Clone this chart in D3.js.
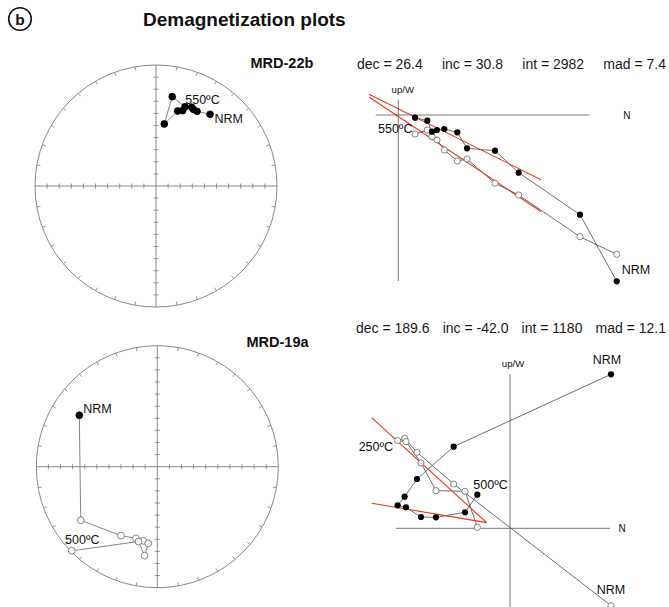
<!DOCTYPE html>
<html>
<head>
<meta charset="utf-8">
<script src="https://cdn.jsdelivr.net/npm/d3@7"></script>
<style>
  html, body { margin: 0; padding: 0; background: #fff; }
  svg { display: block; font-family: "Liberation Sans", Arial, Helvetica, sans-serif; }
</style>
</head>
<body>
<svg id="fig" width="669" height="607"></svg>
<script>
// ---------------- data ----------------
// Specimen names
const specimens = ["MRD-22b", "MRD-19a"];

// Principal component results: dec, inc, int, mad
const statNames = ["dec", "inc", "int", "mad"];
const statsTop = [26.4, 30.8, 2982, 7.4];
const statsBottom = [189.6, -42.0, 1180, 12.1];

// Equal-area net directions, in plotting order (first step = NRM)
const netTopDec = [37.0, 28.8, 25.9, 24.4, 20.1, 10.3, 7.6, 16.1, 19.5];
const netTopInc = [26.7, 30.3, 30.2, 29.3, 30.9, 25.9, 47.1, 35.7, 34.3];
const netBotDec = [303.4, 235.0, 207.8, 196.6, 190.7, 186.7, 188.1, 194.1, 225.5];
const netBotInc = [23.8, -23.8, -35.8, -38.2, -37.7, -36.4, -26.6, -36.4, -1.0];

// Orthogonal vector components (N, up/W horizontal, up vertical), NRM first
const zTopNorth = [2184, 1817, 1204, 967, 687, 590, 460, 387, 337, 290, 167];
const zTopWest  = [-1663, -997, -577, -357, -333, -173, -140, -150, -167, -57, -27];
const zTopUp    = [-1393, -1217, -800, -683, -440, -460, -350, -250, -217, -150, -190];

const zBotNorth = [606, -338, -558, -632, -674, -624, -534, -444, -270, -196];
const zBotWest  = [924, 490, 296, 190, 138, 126, 68, 66, 96, 202];
const zBotUp    = [-464, 266, 456, 540, 526, 520, 392, 226, 222, 6];

// Fitted line extents along N and their intercepts at N = 0 (W, up)
const fitTopNorth = [-293, 1427];
const fitTopIntercept = [62, -15];
const fitBotNorth = [-830, -140];
const fitBotIntercept = [10.3, -93.8];

// ---------------- drawing ----------------
const svg = d3.select("#fig");
const FRAME = "#7a7a7a";
const PATH = "#4a4a4a";
const RED = "#e8361e";
const INK = "#111";

const fmtLocale = d3.formatLocale({ decimal: ".", thousands: "", grouping: [3], currency: ["", ""], minus: "-" });
const statFormats = [fmtLocale.format(".1f"), fmtLocale.format(".1f"), fmtLocale.format("d"), fmtLocale.format(".1f")];

// Panel header
svg.append("circle").attr("cx", 20).attr("cy", 19).attr("r", 11.3)
  .attr("fill", "none").attr("stroke", INK).attr("stroke-width", 1.6);
svg.append("text").attr("x", 20).attr("y", 24.5).attr("text-anchor", "middle")
  .attr("font-size", 15.5).attr("font-weight", "bold").attr("fill", INK).text("b");
svg.append("text").attr("x", 143).attr("y", 26).attr("font-size", 19).attr("font-weight", "bold")
  .attr("fill", INK).text("Demagnetization plots");

function specimenLabel(x, y, name) {
  svg.append("text").attr("x", x).attr("y", y).attr("font-size", 14.5).attr("font-weight", "bold")
    .attr("fill", INK).text(name);
}

function statsLine(x0, x1, yb, vals) {
  const texts = statNames.map((n, i) => svg.append("text").attr("y", yb).attr("font-size", 14)
    .attr("fill", "#1a1a1a").text(`${n} = ${statFormats[i](vals[i])}`));
  const widths = texts.map(t => t.node().getComputedTextLength());
  const gap = (x1 - x0 - d3.sum(widths)) / (texts.length - 1);
  let x = x0;
  texts.forEach((t, i) => { t.attr("x", x); x += widths[i] + gap; });
}

// Equal-area (Schmidt) projection of a direction, unit radius
function projectDir(dec, inc) {
  const a = dec * Math.PI / 180;
  const colat = (90 - Math.abs(inc)) * Math.PI / 180;
  const r = Math.SQRT2 * Math.sin(colat / 2);
  return [r * Math.sin(a), r * Math.cos(a)];
}

function stereonet(cx, cy, R, dec, inc, labels) {
  const g = svg.append("g");
  const sx = d3.scaleLinear().domain([-1, 1]).range([cx - R, cx + R]);
  const sy = d3.scaleLinear().domain([-1, 1]).range([cy + R, cy - R]);

  g.append("circle").attr("cx", sx(0)).attr("cy", sy(0)).attr("r", R)
    .attr("fill", "none").attr("stroke", FRAME).attr("stroke-width", 0.9);
  g.append("line").attr("x1", sx(-1)).attr("x2", sx(1)).attr("y1", sy(0)).attr("y2", sy(0))
    .attr("stroke", FRAME).attr("stroke-width", 0.9);
  g.append("line").attr("x1", sx(0)).attr("x2", sx(0)).attr("y1", sy(1)).attr("y2", sy(-1))
    .attr("stroke", FRAME).attr("stroke-width", 0.9);

  const tk = d3.range(-9, 10).filter(k => k !== 0).map(k => k / 10);
  g.selectAll(null).data(tk).join("line")
    .attr("x1", d => sx(d)).attr("x2", d => sx(d))
    .attr("y1", sy(0) - 2.5).attr("y2", sy(0) + 2.5)
    .attr("stroke", FRAME).attr("stroke-width", 0.8);
  g.selectAll(null).data(tk).join("line")
    .attr("y1", d => sy(d)).attr("y2", d => sy(d))
    .attr("x1", sx(0) - 2.5).attr("x2", sx(0) + 2.5)
    .attr("stroke", FRAME).attr("stroke-width", 0.8);

  const az = d3.range(0, 360, 10).filter(a => a % 90 !== 0);
  g.selectAll(null).data(az).join("line")
    .attr("x1", a => sx(Math.sin(a * Math.PI / 180)))
    .attr("y1", a => sy(Math.cos(a * Math.PI / 180)))
    .attr("x2", a => sx(0.97 * Math.sin(a * Math.PI / 180)))
    .attr("y2", a => sy(0.97 * Math.cos(a * Math.PI / 180)))
    .attr("stroke", FRAME).attr("stroke-width", 0.8);

  const pts = dec.map((d, i) => {
    const [px, py] = projectDir(d, inc[i]);
    return { x: sx(px), y: sy(py), down: inc[i] >= 0 };
  });
  g.append("path").attr("d", d3.line().x(p => p.x).y(p => p.y)(pts))
    .attr("fill", "none").attr("stroke", "#666").attr("stroke-width", 0.8);
  g.selectAll(null).data(pts).join("circle")
    .attr("cx", p => p.x).attr("cy", p => p.y).attr("r", 3.4)
    .attr("fill", p => p.down ? "#000" : "#fff")
    .attr("stroke", p => p.down ? "#000" : "#666").attr("stroke-width", 0.8);

  labels.forEach(l => {
    g.append("text").attr("x", pts[l.i].x + l.dx).attr("y", pts[l.i].y + l.dy)
      .attr("font-size", 12.5).attr("fill", INK).text(l.text);
  });
}

function zijderveld(o) {
  const g = svg.append("g");
  const x = d3.scaleLinear().domain(o.xDom).range(o.xRange);
  const y = d3.scaleLinear().domain(o.yDom).range(o.yRange);

  g.append("line").attr("x1", o.xRange[0]).attr("x2", o.xRange[1]).attr("y1", y(0)).attr("y2", y(0))
    .attr("stroke", FRAME).attr("stroke-width", 1);
  g.append("line").attr("x1", x(0)).attr("x2", x(0)).attr("y1", o.yRange[0]).attr("y2", o.yRange[1])
    .attr("stroke", FRAME).attr("stroke-width", 1);
  g.append("text").attr("x", x(0) + o.upDx).attr("y", o.yRange[0] - 7).attr("text-anchor", "middle")
    .attr("font-size", 9.6).attr("fill", INK).text("up/W");
  g.append("text").attr("x", o.xRange[1] + o.nDx).attr("y", y(0) + 4).attr("font-size", 10)
    .attr("fill", INK).text("N");

  // fitted component: slopes from the stated declination and inclination
  const d = o.stats[0] * Math.PI / 180, inc = o.stats[1] * Math.PI / 180;
  const slopeW = -Math.tan(d);
  const slopeUp = -Math.tan(inc) / Math.cos(d);
  const fitLines = [
    o.fitN.map(n => [n, o.fitB[0] + slopeW * n]),
    o.fitN.map(n => [n, o.fitB[1] + slopeUp * n])
  ];

  const hor = o.north.map((n, i) => [n, o.west[i]]);
  const ver = o.north.map((n, i) => [n, o.up[i]]);
  const line = d3.line().x(p => x(p[0])).y(p => y(p[1]));

  g.selectAll(null).data([hor, ver]).join("path").attr("d", line)
    .attr("fill", "none").attr("stroke", PATH).attr("stroke-width", 0.8);
  g.selectAll(null).data(fitLines).join("path").attr("d", line)
    .attr("fill", "none").attr("stroke", RED).attr("stroke-width", 1.1);
  g.selectAll(null).data(ver).join("circle")
    .attr("cx", p => x(p[0])).attr("cy", p => y(p[1])).attr("r", 3.1)
    .attr("fill", "#fff").attr("stroke", "#666").attr("stroke-width", 0.8);
  g.selectAll(null).data(hor).join("circle")
    .attr("cx", p => x(p[0])).attr("cy", p => y(p[1])).attr("r", 3.1)
    .attr("fill", "#000");

  o.labels.forEach(l => {
    const p = (l.set === "h" ? hor : ver)[l.i];
    g.append("text").attr("x", x(p[0]) + l.dx).attr("y", y(p[1]) + l.dy)
      .attr("font-size", 12.5).attr("fill", INK).text(l.text);
  });
}

// ---- upper specimen ----
specimenLabel(250.5, 67.5, specimens[0]);
statsLine(357, 666, 68.5, statsTop);
stereonet(156, 186, 121, netTopDec, netTopInc, [
  { i: 0, dx: 4.5, dy: 8.5, text: "NRM" },
  { i: 5, dx: 13, dy: 7.5, text: "550ºC" }
]);
zijderveld({
  xDom: [-226, 1910], xRange: [375.7, 589.3],
  yDom: [150, -1660], yRange: [100, 281],
  north: zTopNorth, west: zTopWest, up: zTopUp,
  stats: statsTop, fitN: fitTopNorth, fitB: fitTopIntercept,
  upDx: 4.5, nDx: 34,
  labels: [
    { set: "h", i: 0, dx: 5, dy: -7, text: "NRM" },
    { set: "h", i: 10, dx: -37, dy: 15.5, text: "550ºC" }
  ]
});

// ---- lower specimen ----
specimenLabel(246.5, 347, specimens[1]);
statsLine(356, 666, 333, statsBottom);
stereonet(157.3, 466.7, 121, netBotDec, netBotInc, [
  { i: 0, dx: 4, dy: -2.5, text: "NRM" },
  { i: 8, dx: -6.7, dy: -6.5, text: "500ºC" }
]);
zijderveld({
  xDom: [-684, 600], xRange: [396, 610],
  yDom: [924, -472], yRange: [374.3, 607],
  north: zBotNorth, west: zBotWest, up: zBotUp,
  stats: statsBottom, fitN: fitBotNorth, fitB: fitBotIntercept,
  upDx: 3, nDx: 8.5,
  labels: [
    { set: "h", i: 0, dx: -18.3, dy: -10, text: "NRM" },
    { set: "v", i: 0, dx: -14.3, dy: -11.7, text: "NRM" },
    { set: "v", i: 4, dx: -39, dy: 10.3, text: "250ºC" },
    { set: "h", i: 9, dx: -4, dy: -5.4, text: "500ºC" }
  ]
});
</script>
</body>
</html>
